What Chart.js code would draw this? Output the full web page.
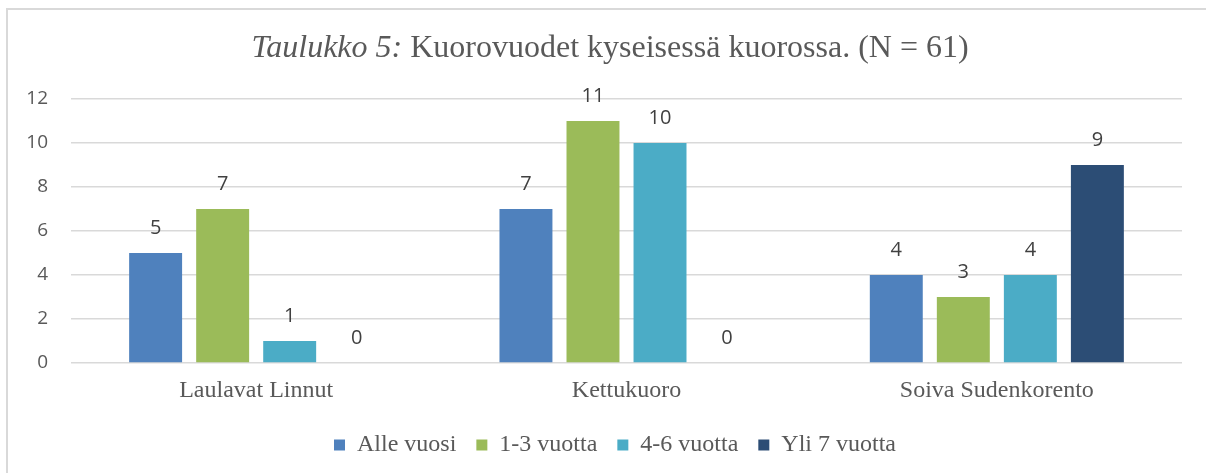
<!DOCTYPE html>
<html>
<head>
<meta charset="utf-8">
<script src="https://cdn.jsdelivr.net/npm/chart.js@4/dist/chart.umd.min.js"></script>
<style>
  html, body { margin: 0; padding: 0; background: #ffffff; }
  #wrap { position: relative; width: 1206px; height: 473px; }
</style>
</head>
<body>
<div id="wrap"><canvas id="c" width="1206" height="473"></canvas></div>
<script>
const categories = ["Laulavat Linnut", "Kettukuoro", "Soiva Sudenkorento"];
const seriesNames = ["Alle vuosi", "1-3 vuotta", "4-6 vuotta", "Yli 7 vuotta"];
const alleVuosi = [5, 7, 4];
const vuotta1_3 = [7, 11, 3];
const vuotta4_6 = [1, 10, 4];
const yli7 = [0, 0, 9];
const yTicks = [0, 2, 4, 6, 8, 10, 12];
const titleItalic = "Taulukko 5:";
const titleRest = " Kuorovuodet kyseisessä kuorossa. (N = 61)";

const colors = ["#4F81BD", "#9BBB59", "#4BACC6", "#2C4D75"];
const seriesValues = [alleVuosi, vuotta1_3, vuotta4_6, yli7];

const frameAndTitle = {
  id: 'frameAndTitle',
  afterLayout(chart) {
    if (chart.legend) {
      chart.legend.left += 24;
      chart.legend.right += 24;
    }
  },
  beforeDraw(chart) {
    const ctx = chart.ctx;
    ctx.save();
    ctx.fillStyle = '#ffffff';
    ctx.fillRect(0, 0, chart.width, chart.height);
    ctx.strokeStyle = '#d9d9d9';
    ctx.lineWidth = 2;
    ctx.beginPath();
    ctx.moveTo(7, chart.height + 2);
    ctx.lineTo(7, 9);
    ctx.lineTo(chart.width + 2, 9);
    ctx.stroke();
    ctx.restore();
  },
  afterDraw(chart) {
    const ctx = chart.ctx;
    ctx.save();
    const fi = 'italic 32px "Liberation Serif", "Times New Roman", serif';
    const fr = '32px "Liberation Serif", "Times New Roman", serif';
    ctx.font = fi;
    const w1 = ctx.measureText(titleItalic).width;
    ctx.font = fr;
    const w2 = ctx.measureText(titleRest).width;
    const cx = 610;
    const x0 = cx - (w1 + w2) / 2;
    const yb = 57;
    ctx.fillStyle = '#595959';
    ctx.textBaseline = 'alphabetic';
    ctx.textAlign = 'left';
    ctx.font = fi;
    ctx.fillText(titleItalic, x0, yb);
    ctx.font = fr;
    ctx.fillText(titleRest, x0 + w1, yb);
    ctx.restore();
  },
  afterDatasetsDraw(chart) {
    const ctx = chart.ctx;
    ctx.save();
    ctx.font = '20px "Open Sans", sans-serif';
    ctx.fillStyle = '#404040';
    ctx.textAlign = 'center';
    ctx.textBaseline = 'middle';
    chart.data.datasets.forEach((ds, i) => {
      const meta = chart.getDatasetMeta(i);
      meta.data.forEach((bar, j) => {
        ctx.fillText(String(ds.data[j]), bar.x, bar.y - 24.5);
      });
    });
    ctx.restore();
  }
};

new Chart(document.getElementById('c'), {
  type: 'bar',
  data: {
    labels: categories,
    datasets: seriesNames.map((name, i) => ({
      label: name,
      data: seriesValues[i],
      backgroundColor: colors[i],
      borderWidth: 0,
      categoryPercentage: 0.724,
      barPercentage: 0.79
    }))
  },
  options: {
    responsive: false,
    animation: false,
    devicePixelRatio: 1,
    layout: { padding: { top: 99, right: 24, left: 0, bottom: 6 } },
    plugins: {
      title: { display: false },
      tooltip: { enabled: false },
      legend: {
        position: 'bottom',
        labels: {
          boxWidth: 11,
          boxHeight: 11,
          padding: 20,
          color: '#595959',
          font: { family: '"Liberation Serif", "Times New Roman", serif', size: 24 }
        }
      }
    },
    scales: {
      x: {
        grid: { display: false, drawTicks: false },
        border: { display: false },
        ticks: {
          color: '#595959',
          padding: 13,
          font: { family: '"Liberation Serif", "Times New Roman", serif', size: 24 }
        },
        afterFit(scale) { scale.height = 50; }
      },
      y: {
        min: 0,
        max: 12,
        afterBuildTicks(scale) { scale.ticks = yTicks.map(v => ({ value: v })); },
        grid: { color: '#d9d9d9', lineWidth: 1.5, drawTicks: false },
        border: { display: false },
        ticks: {
          color: '#595959',
          padding: 23,
          font: { family: '"Open Sans", sans-serif', size: 19 }
        },
        afterFit(scale) { scale.width = 71; }
      }
    }
  },
  plugins: [frameAndTitle]
});
</script>
</body>
</html>
